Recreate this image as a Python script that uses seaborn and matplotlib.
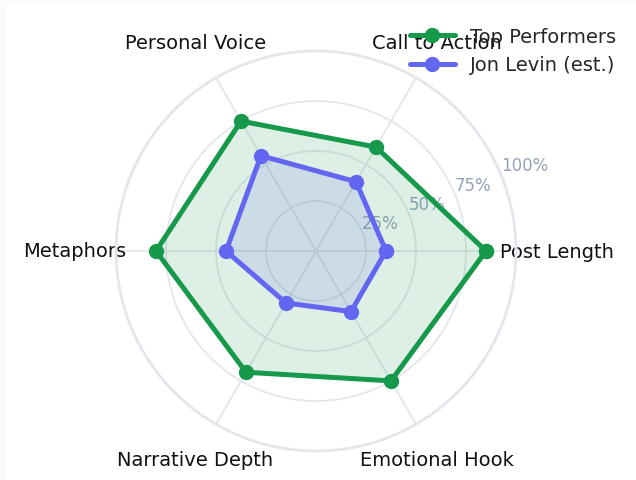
import numpy as np
import matplotlib
matplotlib.use("Agg")
import matplotlib.pyplot as plt
import seaborn as sns
from matplotlib.patches import Rectangle

categories = ["Post Length", "Call to Action", "Personal Voice", "Metaphors", "Narrative Depth", "Emotional Hook"]
top_performers = [85, 60, 75, 80, 70, 75]
jon_levin = [35, 40, 55, 45, 30, 35]
r_ticks = [25, 50, 75, 100]
r_tick_labels = ["25%", "50%", "75%", "100%"]

sns.set_theme(style="white")
plt.rcParams["font.family"] = ["DejaVu Sans"]

fig = plt.figure(figsize=(6.36, 4.81), dpi=100)
fig.patch.set_facecolor("#f8fafc")
bg = Rectangle((6 / 636, 0), 1, 1 - 5 / 481, transform=fig.transFigure,
               facecolor="white", edgecolor="none", zorder=-10)
fig.patches.append(bg)

ax = fig.add_axes([116 / 636, 29 / 481, 400 / 636, 400 / 481], projection="polar")
ax.set_facecolor("white")

n = len(categories)
angles = np.linspace(0, 2 * np.pi, n, endpoint=False)
ang_closed = np.concatenate([angles, angles[:1]])

series = [("Top Performers", top_performers, "#16994a"),
          ("Jon Levin (est.)", jon_levin, "#6366f1")]
for name, vals, col in series:
    v = np.concatenate([vals, vals[:1]])
    ax.fill(ang_closed, v, color=col, alpha=0.14, zorder=2)
    ax.plot(ang_closed, v, color=col, linewidth=3.6, marker="o", markersize=10,
            label=name, zorder=3)

ax.set_ylim(0, 100)
ax.set_yticks(r_ticks)
ax.set_yticklabels(r_tick_labels, color="#94a3b8", fontsize=12)
ax.set_rlabel_position(22.5)
ax.set_xticks(angles)
ax.set_xticklabels(categories, fontsize=14, color="#111111")
ax.tick_params(axis="x", pad=16.5)
ax.grid(True, color="#e4e6ec", linewidth=1.3)
ax.spines["polar"].set_color("#e4e6ec")
ax.spines["polar"].set_linewidth(2)

ax.legend(loc="upper right", bbox_to_anchor=(1.28, 1.09), frameon=False, fontsize=14,
          handlelength=2.3, borderaxespad=0.2, labelspacing=0.5)

fig.savefig("out.png", dpi=100, facecolor=fig.get_facecolor())
